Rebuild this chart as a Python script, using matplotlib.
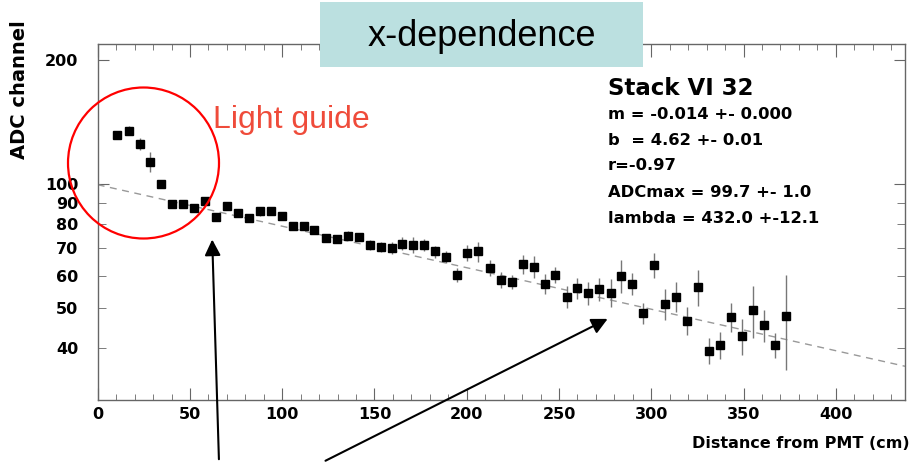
import matplotlib
matplotlib.use("Agg")
import matplotlib.pyplot as plt
import numpy as np
from matplotlib.patches import Rectangle, Ellipse
from matplotlib.ticker import MultipleLocator

# Measured attenuation along the stack: mean ADC vs distance from the PMT
dist_cm = [10.6, 16.8, 22.8, 28.3, 34.3, 40.3, 46.4, 52.4, 58.3, 64.3, 70.1,
           76.2, 82.0, 87.8, 93.9, 99.7, 105.7, 111.7, 117.4, 123.6, 129.5, 135.7,
           141.6, 147.6, 153.4, 159.3, 165.1, 170.9, 176.9, 183.0, 188.8, 194.6, 200.3, 206.3,
           212.6, 218.6, 224.6, 230.5, 236.5, 242.3, 248.0, 254.2, 259.9, 265.9, 271.9,
           278.0, 283.8, 289.8, 295.7, 301.7, 307.5, 313.6, 319.6, 325.5,
           331.3, 337.3, 343.2, 349.1, 355.0, 361.0, 367.1, 373.1]
adc = [131.6, 134.8, 125.2, 113.4, 100.0, 89.6, 89.6, 87.5, 91.1, 83.2, 88.6,
       85.3, 82.7, 86.0, 86.0, 83.8, 79.3, 79.3, 77.4, 74.1, 73.7, 75.1,
       74.6, 71.3, 70.5, 70.0, 71.7, 71.3, 71.4, 68.7, 66.6, 60.3, 68.3, 68.7,
       62.6, 58.7, 57.9, 64.1, 63.0, 57.3, 60.3, 53.4, 56.0, 54.5, 55.8,
       54.6, 60.0, 57.4, 48.7, 63.7, 51.3, 53.4, 46.7, 56.2,
       39.5, 40.8, 47.6, 42.9, 49.5, 45.5, 40.7, 47.8]
adc_err = [2.2, 3.4, 4.5, 6.3, 2.2, 1.7, 1.7, 1.7, 1.8, 1.7, 1.8,
           1.8, 1.7, 2.2, 1.8, 1.8, 1.7, 1.7, 1.7, 1.7, 1.7, 1.8,
           1.7, 2.0, 2.0, 2.3, 2.6, 3.2, 2.4, 2.3, 2.2, 2.4, 3.0, 3.8,
           2.8, 2.6, 2.3, 3.4, 3.9, 3.2, 2.7, 3.3, 3.4, 3.5, 3.6,
           4.3, 5.4, 3.4, 2.9, 4.3, 4.3, 4.5, 3.6, 5.6,
           2.8, 3.0, 3.8, 4.3, 7.2, 4.1, 2.8, 12.3]

# Exponential fit results
adc_max = 99.7
lam = 432.0
fit_lines = ["m = -0.014 +- 0.000",
             "b  = 4.62 +- 0.01",
             "r=-0.97",
             "ADCmax = 99.7 +- 1.0",
             "lambda = 432.0 +-12.1"]

y_ticks_major = [100, 200]
y_ticks_minor = [40, 50, 60, 70, 80, 90]

W, H = 912, 462
def fx(px):
    return px / W
def fy(py):
    return 1 - py / H

bold = dict(family=["DejaVu Sans"], fontweight="bold")

fig = plt.figure(figsize=(W / 100, H / 100), dpi=100)
ax = fig.add_axes([fx(97.7), fy(400), (905 - 97.7) / W, (400 - 44) / H])
ax.set_yscale("log")
ax.set_xlim(0, 437.5)
ax.set_ylim(30, 218.6)

# fit curve
xs = np.linspace(0, 437.5, 300)
ax.plot(xs, adc_max * np.exp(-xs / lam), ls=(0, (5, 4)), color="#999999", lw=1.0)

# data points
ax.errorbar(dist_cm, adc, yerr=adc_err, fmt="s", ms=6.3, mfc="black", mec="black",
            ecolor="#777777", elinewidth=1.0, capsize=0, zorder=3)

# axes styling
for sp in ax.spines.values():
    sp.set_color("#666666")
    sp.set_linewidth(1.0)
ax.xaxis.set_major_locator(MultipleLocator(50))
ax.xaxis.set_minor_locator(MultipleLocator(10))
ax.set_yticks(y_ticks_major, labels=[str(v) for v in y_ticks_major])
ax.set_yticks(y_ticks_minor, labels=[str(v) for v in y_ticks_minor], minor=True)
ax.tick_params(axis="both", which="both", direction="in", top=True, right=True,
               color="#666666", labelsize=11.5)
ax.tick_params(axis="x", which="major", length=9, pad=5)
ax.tick_params(axis="x", which="minor", length=4.5)
ax.tick_params(axis="y", which="major", length=8, pad=14)
ax.tick_params(axis="y", which="minor", length=6, pad=14)
for lab in ax.get_xticklabels() + ax.get_yticklabels() + ax.get_yticklabels(minor=True):
    lab.set_fontweight("bold")

fig.text(fx(910), fy(443), "Distance from PMT (cm)", ha="right", va="center",
         fontsize=11.5, **bold)
fig.text(fx(20), fy(90), "ADC channel", ha="center", va="center", rotation=90,
         fontsize=14, **bold)

# fit statistics block
fig.text(fx(608), fy(95), "Stack VI 32", ha="left", va="baseline", fontsize=16.5, **bold)
baselines = [119.3, 145, 170, 196.7, 222.7]
for line, b in zip(fit_lines, baselines):
    fig.text(fx(608), fy(b), line, ha="left", va="baseline", fontsize=11.8, **bold)

# title banner
fig.add_artist(Rectangle((fx(320), fy(67)), 323 / W, 65 / H, transform=fig.transFigure,
                         facecolor="#bbe0e0", edgecolor="none", zorder=5))
fig.text(fx(481.5), fy(37), "x-dependence", ha="center", va="center", fontsize=26,
         family=["Liberation Sans", "DejaVu Sans"], color="black", zorder=6)

# light guide highlight
fig.add_artist(Ellipse((fx(143.5), fy(163)), 2 * 75.5 / W, 2 * 75.5 / H,
                       transform=fig.transFigure, facecolor="none", edgecolor="red",
                       lw=1.6, zorder=6))
fig.text(fx(213), fy(128), "Light guide", ha="left", va="baseline", fontsize=23,
         family=["Liberation Sans", "DejaVu Sans"], color="#ef4b3a", zorder=6)

# arrows pointing at the light-guide region and the fit region
arrow_kw = dict(arrowstyle="-|>", color="black", lw=1.5, mutation_scale=24)
ax.annotate("", xy=(62.0, 74.6), xycoords="data", xytext=(219, 0),
            textcoords="figure pixels", arrowprops=arrow_kw, annotation_clip=False)
ax.annotate("", xy=(277.7, 47.5), xycoords="data", xytext=(323, 0),
            textcoords="figure pixels", arrowprops=arrow_kw, annotation_clip=False)

fig.savefig("out.png", dpi=100)
